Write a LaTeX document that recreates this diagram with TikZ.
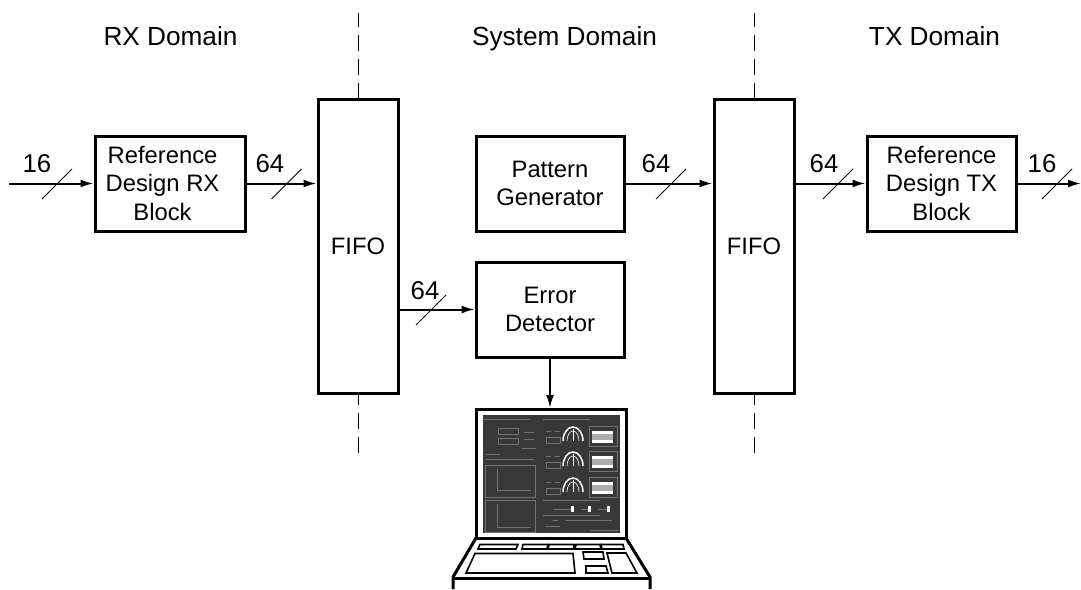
\documentclass[tikz,border=0pt]{standalone}
\usepackage{fontspec}
\setmainfont{Liberation Sans}
\usetikzlibrary{arrows.meta}
\definecolor{scr}{gray}{0.22}
\definecolor{scrl}{gray}{0.45}
\tikzset{
  blockbox/.style={draw,line width=3pt,inner sep=0pt,align=center,font=\fontsize{23.8}{28.7}\selectfont},
  flowline/.style={line width=2pt,-{Latex[length=13pt,width=8pt]}},
  slashline/.style={line width=1pt},
  numlabel/.style={font=\fontsize{25.8}{30}\selectfont,inner sep=0pt,anchor=base},
  domlabel/.style={font=\fontsize{26.2}{30}\selectfont,inner sep=0pt,anchor=base},
  boundline/.style={line width=1pt,dash pattern=on 16pt off 8pt},
  keycap/.style={draw,line width=1.6pt},
  scrline/.style={scrl,line width=0.6pt}
}
\begin{document}
\begin{tikzpicture}[x=1pt,y=-1pt]
\useasboundingbox (0,0) rectangle (1081,589);
% dashed boundaries
\coordinate (b1a) at (358,13); \coordinate (b1b) at (358,99);
\coordinate (b1c) at (358,393); \coordinate (b1d) at (358,453);
\coordinate (b2a) at (754,13); \coordinate (b2b) at (754,99);
\coordinate (b2c) at (754,393); \coordinate (b2d) at (754,453);
\draw[boundline] (b1b) -- (b1a);
\draw[boundline] (b1d) -- (b1c);
\draw[boundline] (b2b) -- (b2a);
\draw[boundline] (b2d) -- (b2c);
% boxes
\node[blockbox,minimum width=150pt,minimum height=95pt,fill=white] (rx) at (170,183.5) {};
\node[inner sep=0pt,align=center,font=\fontsize{23.8}{28.7}\selectfont] (rxt) at (162.5,183.5) {Reference\\Design RX\\Block};
\node[blockbox,minimum width=80pt,minimum height=294pt,fill=white] (f1) at (358,246) {FIFO};
\node[blockbox,minimum width=148pt,minimum height=95pt] (pg) at (550,183.5) {Pattern\\Generator};
\node[blockbox,minimum width=148pt,minimum height=95pt] (ed) at (550,309.5) {Error\\Detector};
\node[blockbox,minimum width=80pt,minimum height=294pt,fill=white] (f2) at (754,246) {FIFO};
\node[blockbox,minimum width=149pt,minimum height=95pt] (tx) at (941.5,183.5) {Reference\\Design TX\\Block};
% domain titles
\node[domlabel] (d1) at (170.5,45) {RX Domain};
\node[domlabel] (d2) at (564.5,45) {System Domain};
\node[domlabel] (d3) at (934.5,45) {TX Domain};
% laptop
\draw[line width=3pt,fill=white] (476,409) rectangle (626,538);
\fill[scr] (483,415) rectangle (620,533);
\draw[line width=3pt] (476,538) -- (453,577) -- (453,589);
\draw[line width=3pt] (626,538) -- (650,577) -- (650,589);
\draw[line width=3pt] (453,578) -- (650,578);
% keys
\draw[keycap] (480,544.5) -- (518,544.5) -- (516,549) -- (478,549) -- cycle;
\draw[keycap] (523,544.5) -- (548,544.5) -- (547,549) -- (522,549) -- cycle;
\draw[keycap] (549,544.5) -- (574,544.5) -- (574,549) -- (548,549) -- cycle;
\draw[keycap] (576,544.5) -- (600,544.5) -- (601,549) -- (575,549) -- cycle;
\draw[keycap] (601,544.5) -- (623,544.5) -- (624,549) -- (602,549) -- cycle;
\draw[keycap] (475,553.5) -- (573,553.5) -- (575,573) -- (466,573) -- cycle;
\draw[keycap] (583,552) -- (603,552) -- (604,559) -- (584,559) -- cycle;
\draw[keycap] (586,566) -- (606,566) -- (608,573) -- (586,573) -- cycle;
\draw[keycap] (607,553) -- (626,553) -- (637,573) -- (612,573) -- cycle;
% screen details
\draw[scrline] (484,419) -- (530,419);
\draw[scrline] (543,419) -- (590,419);
\draw[scrline] (498,428) rectangle (518,434);
\draw[scrline] (498,438) rectangle (518,444);
\draw[scrline] (524,432) -- (534,432);
\draw[scrline] (524,439) -- (534,439);
\draw[scrline] (522,448) -- (536,448);
\draw[scrline] (486,454) -- (500,454);
\draw[scrline] (486,459) -- (534,459);
\draw[scrline] (485,465) rectangle (535,497);
\draw[scrline] (485,500) rectangle (535,532);
\draw[scrline] (497,469) -- (497,490) -- (531,490);
\draw[scrline] (497,504) -- (497,527) -- (531,527);
\draw[scrline] (543,500) -- (600,500);
\foreach \yy/\bb in {431/427,456/452,482/478}{
  \draw[scrline] (546,\yy) -- (551,\yy);
  \draw[scrline] (555,\yy) -- (560,\yy);
  \draw[scrline] (546,\yy+6) rectangle (560,\yy+12);
  \draw[white,line width=1.5pt] (563,\bb+14) arc[start angle=180,end angle=360,x radius=10,y radius=14];
  \draw[white,line width=0.6pt] (567,\bb+14) arc[start angle=180,end angle=360,x radius=6,y radius=10];
  \draw[white,line width=0.8pt] (573,\bb+2) -- (573,\bb+14);
  \fill[white] (592,\yy) rectangle (613,\yy+12);
  \fill[gray!65] (592,\yy+3) rectangle (613,\yy+9);
  \draw[scrline] (589,\yy-5) rectangle (617,\yy+15);
}
\foreach \xa/\xc in {553/572,581/589,598/608}{
  \draw[scrline] (\xa,509) -- (\xc+1,509);
  \fill[white] (\xc-1,506) rectangle (\xc+1.5,512);
}
\draw[scrline] (543,515) -- (600,515);
\draw[scrline] (553,520) -- (558,520);
\draw[scrline] (565,520) -- (612,520);
\draw[scrline] (545,526) -- (560,526);
\draw[scrline] (590,530) -- (618,530);
% connectors
\coordinate (in) at (9,183.5);
\coordinate (out) at (1081,183.5);
\coordinate (lt) at (550,408);
\draw[flowline] (in) -- (rx.west |- in);
\draw[flowline] (rx.east) -- (f1.west |- rx.east);
\draw[flowline] (pg.east) -- (f2.west |- pg.east);
\draw[flowline] (f2.east |- tx.west) -- (tx.west);
\draw[flowline] (tx.east) -- (out);
\draw[flowline] (f1.east |- ed.west) -- (ed.west);
\draw[flowline] (ed.south) -- (lt);
% bus slashes
\foreach \x/\y in {57/184,286.5/184,671/184,838/184,1057/184,431/310}{
  \draw[slashline] (\x-15,\y+15) -- (\x+15,\y-15);
}
% labels
\node[numlabel] (n1) at (37,172) {16};
\node[numlabel] (n2) at (270,172) {64};
\node[numlabel] (n3) at (656,172) {64};
\node[numlabel] (n4) at (824,172) {64};
\node[numlabel] (n5) at (1042,172) {16};
\node[numlabel] (n6) at (425,299) {64};
\end{tikzpicture}
\end{document}
